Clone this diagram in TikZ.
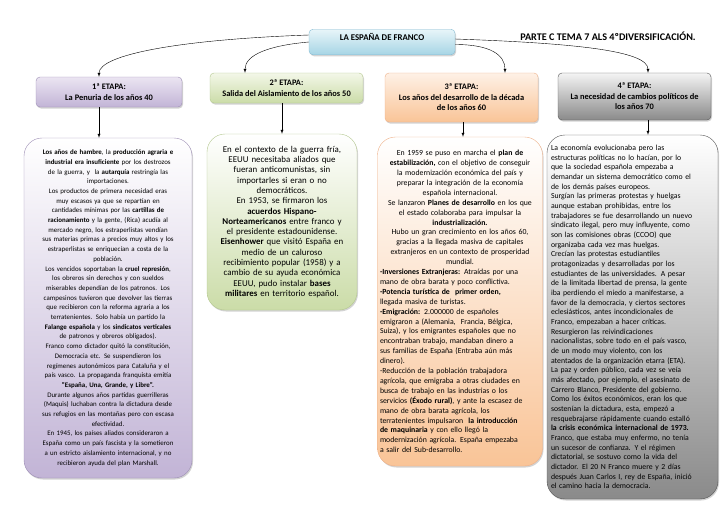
\documentclass[tikz,border=0pt]{standalone}
\usepackage{fontspec}
\setmainfont{Carlito}
\usetikzlibrary{shadows}
\definecolor{lilaA}{HTML}{EBE5F2}
\definecolor{lilaB}{HTML}{C2B4D6}
\definecolor{lilaC}{HTML}{9C8DB4}
\definecolor{verdeA}{HTML}{F3F7E8}
\definecolor{verdeB}{HTML}{CBDCA8}
\definecolor{verdeC}{HTML}{B3C78E}
\definecolor{naranjaA}{HTML}{FEF1E6}
\definecolor{naranjaB}{HTML}{F9C497}
\definecolor{naranjaC}{HTML}{EEB088}
\definecolor{grisA}{HTML}{F4F4F4}
\definecolor{grisB}{HTML}{8A8A8A}
\definecolor{grisC}{HTML}{555555}
\definecolor{azulA}{HTML}{E8F5F9}
\definecolor{azulB}{HTML}{A6D5E5}
\definecolor{azulC}{HTML}{86BCD3}
\begin{document}
\begin{tikzpicture}[x=1pt, y=-1pt, >=latex,
    sombra/.style={drop shadow={opacity=0.35, shadow xshift=1pt, shadow yshift=-1.5pt}},
    etapa/.style={draw=#1C, top color=#1A, bottom color=#1B, rounded corners=4pt, sombra,
      font=\fontsize{8.4}{10.5}\selectfont\bfseries, align=center, inner sep=0pt},
    caja/.style={draw=#1C, top color=white, bottom color=#1B, rounded corners=18pt, sombra,
      inner xsep=6pt, inner ysep=0pt}]
\useasboundingbox (0,0) rectangle (728,515);

\node[etapa=azul, minimum width=146pt, text height=8pt, text depth=11.5pt, inner ysep=3pt,
  font=\fontsize{8.8}{9}\selectfont\bfseries] (titulo) at (382,42) {LA ESPAÑA DE FRANCO};
\node[font=\fontsize{10.2}{12}\selectfont\bfseries] (tema) at (608,36) {PARTE C TEMA 7 ALS 4ºDIVERSIFICACIÓN.};

\node[etapa=lila, minimum width=146pt, minimum height=30pt] (e1) at (109,92) {1ª ETAPA:\\La Penuria de los años 40};
\node[etapa=verde, minimum width=153pt, minimum height=30pt] (e2) at (286.5,88) {2ª ETAPA:\\Salida del Aislamiento de los años 50};
\node[etapa=naranja, minimum width=153pt, minimum height=49pt] (e3) at (461.5,97.5) {3ª ETAPA:\\Los años del desarrollo de la década\\de los años 60};
\node[etapa=gris, minimum width=153pt, minimum height=47pt] (e4) at (634.5,96.5) {4ª ETAPA:\\La necesidad de cambios políticos de\\los años 70};

\node[caja=lila, minimum width=168pt, minimum height=340pt, text width=158pt, inner xsep=5pt, align=center,
  font=\fontsize{6.9}{9.7}\selectfont] (c1) at (108,308) {%
\textbf{Los años de hambre}, la \textbf{producción agraria e}\\
\textbf{industrial era insuficiente} por los destrozos\\
de la guerra, y~ la \textbf{autarquía} restringía las\\
importaciones.\\
Los productos de primera necesidad eras\\
muy escasos ya que se repartían en\\
cantidades mínimas por las \textbf{cartillas de}\\
\textbf{racionamiento} y la gente, (Rica) acudía al\\
mercado negro, los estraperlistas vendían\\
sus materias primas a precios muy altos y los\\
estraperlistas se enriquecían a costa de la\\
población.\\
Los vencidos soportaban la \textbf{cruel represión},\\
los obreros sin derechos y con sueldos\\
miserables dependían de los patronos. Los\\
campesinos tuvieron que devolver las tierras\\
que recibieron con la reforma agraria a los\\
terratenientes. Solo había un partido la\\
\textbf{Falange española} y los \textbf{sindicatos verticales}\\
de patronos y obreros obligados).\\
Franco como dictador quitó la constitución,\\
Democracia etc. Se suspendieron los\\
regímenes autonómicos para Cataluña y el\\
país vasco. La propaganda franquista emitía\\
\textbf{"España, Una, Grande, y Libre".}\\
Durante algunos años partidas guerrilleras\\
(Maquis) luchaban contra la dictadura desde\\
sus refugios en las montañas pero con escasa\\
efectividad.\\
En 1945, los países aliados consideraron a\\
España como un país fascista y la sometieron\\
a un estricto aislamiento internacional, y no\\
recibieron ayuda del plan Marshall.};

\node[caja=verde, minimum width=150pt, minimum height=176pt, text width=144pt, inner xsep=3pt, align=center,
  font=\fontsize{8.9}{10.3}\selectfont] (c2) at (282,222) {%
En el contexto de la guerra fría,\\
EEUU necesitaba aliados que\\
fueran anticomunistas, sin\\
importarles si eran o no\\
democráticos.\\
En 1953, se firmaron los\\
\textbf{acuerdos Hispano-}\\
\textbf{Norteamericanos} entre franco y\\
el presidente estadounidense.\\
\textbf{Eisenhower} que visitó España en\\
medio de un caluroso\\
recibimiento popular (1958) y a\\
cambio de su ayuda económica\\
EEUU, pudo instalar \textbf{bases}\\
\textbf{militares} en territorio español.};

\node[caja=naranja, minimum width=165pt, minimum height=329pt, text width=160pt,
  inner xsep=2.5pt, font=\fontsize{7.8}{9.9}\selectfont] (c3) at (460,301.5) {%
{\centering
En 1959 se puso en marcha el \textbf{plan de}\\
\textbf{estabilización,} con el objetivo de conseguir\\
la modernización económica del país y\\
preparar la integración de la economía\\
española internacional.\\
Se lanzaron \textbf{Planes de desarrollo} en los que\\
el estado colaboraba para impulsar la\\
\textbf{industrialización.}\\
Hubo un gran crecimiento en los años 60,\\
gracias a la llegada masiva de capitales\\
extranjeros en un contexto de prosperidad\\
mundial.\par}
\raggedright
\textbf{-Inversiones Extranjeras:} Atraídas por una\\
mano de obra barata y poco conflictiva.\\
\textbf{-Potencia turística de~ primer orden,}\\
llegada masiva de turistas.\\
\textbf{-Emigración:} 2.000000 de españoles\\
emigraron a (Alemania,~ Francia, Bélgica,\\
Suiza), y los emigrantes españoles que no\\
encontraban trabajo, mandaban dinero a\\
sus familias de España (Entraba aún más\\
dinero).\\
-Reducción de la población trabajadora\\
agrícola, que emigraba a otras ciudades en\\
busca de trabajo en las industrias o los\\
servicios \textbf{(Éxodo rural)}, y ante la escasez de\\
mano de obra barata agrícola, los\\
terratenientes impulsaron~ \textbf{la introducción}\\
\textbf{de maquinaria} y con ello llegó la\\
modernización agrícola. España empezaba\\
a salir del Sub-desarrollo.\par};

\node[caja=gris, minimum width=171pt, minimum height=364pt, text width=163pt,
  inner xsep=4pt, align=left, font=\fontsize{7.75}{9.66}\selectfont] (c4) at (632.5,317) {%
La economía evolucionaba pero las\\
estructuras políticas no lo hacían, por lo\\
que la sociedad española empezaba a\\
demandar un sistema democrático como el\\
de los demás países europeos.\\
Surgían las primeras protestas y huelgas\\
aunque estaban prohibidas, entre los\\
trabajadores se fue desarrollando un nuevo\\
sindicato ilegal, pero muy influyente, como\\
son las comisiones obras (CCOO) que\\
organizaba cada vez mas huelgas.\\
Crecían las protestas estudiantiles\\
protagonizadas y desarrolladas por los\\
estudiantes de las universidades. A pesar\\
de la limitada libertad de prensa, la gente\\
iba perdiendo el miedo a manifestarse, a\\
favor de la democracia, y ciertos sectores\\
eclesiásticos, antes incondicionales de\\
Franco, empezaban a hacer críticas.\\
Resurgieron las reivindicaciones\\
nacionalistas, sobre todo en el país vasco,\\
de un modo muy violento, con los\\
atentados de la organización etarra (ETA).\\
La paz y orden público, cada vez se veía\\
más afectado, por ejemplo, el asesinato de\\
Carrero Blanco, Presidente del gobierno.\\
Como los éxitos económicos, eran los que\\
sostenían la dictadura, esta, empezó a\\
resquebrajarse rápidamente cuando estalló\\
\textbf{la crisis económica internacional de 1973.}\\
Franco, que estaba muy enfermo, no tenía\\
un sucesor de confianza. Y el régimen\\
dictatorial, se sostuvo como la vida del\\
dictador. El 20 N Franco muere y 2 días\\
después Juan Carlos I, rey de España, inició\\
el camino hacia la democracia.};

\draw[->] ([yshift=7pt]titulo.west) to[out=182, in=90, out distance=130pt, in distance=22pt] ([xshift=-10pt]e1.north);
\draw[->] ([yshift=0pt]titulo.west) to[out=185, in=90, out distance=40pt, in distance=18pt] ([xshift=-41.5pt]e2.north);
\draw[->] ([yshift=-2.5pt]titulo.east) to[out=0, in=90, out distance=35pt, in distance=18pt] ([xshift=43.5pt]e3.north);
\draw[->] ([yshift=3pt]titulo.east) to[out=-2, in=90, out distance=120pt, in distance=22pt] ([xshift=13.5pt]e4.north);

\draw[->] ([xshift=-10pt]e1.south) -- ([xshift=-10pt]e1.south |- c1.north);
\draw[->] ([xshift=-4.5pt]e2.south) -- ([xshift=-4.5pt]e2.south |- c2.north);
\draw[->] ([xshift=1.5pt]e3.south) -- ([xshift=1.5pt]e3.south |- c3.north);
\draw[->] ([xshift=13.5pt]e4.south) -- ([xshift=13.5pt]e4.south |- c4.north);
\end{tikzpicture}
\end{document}
